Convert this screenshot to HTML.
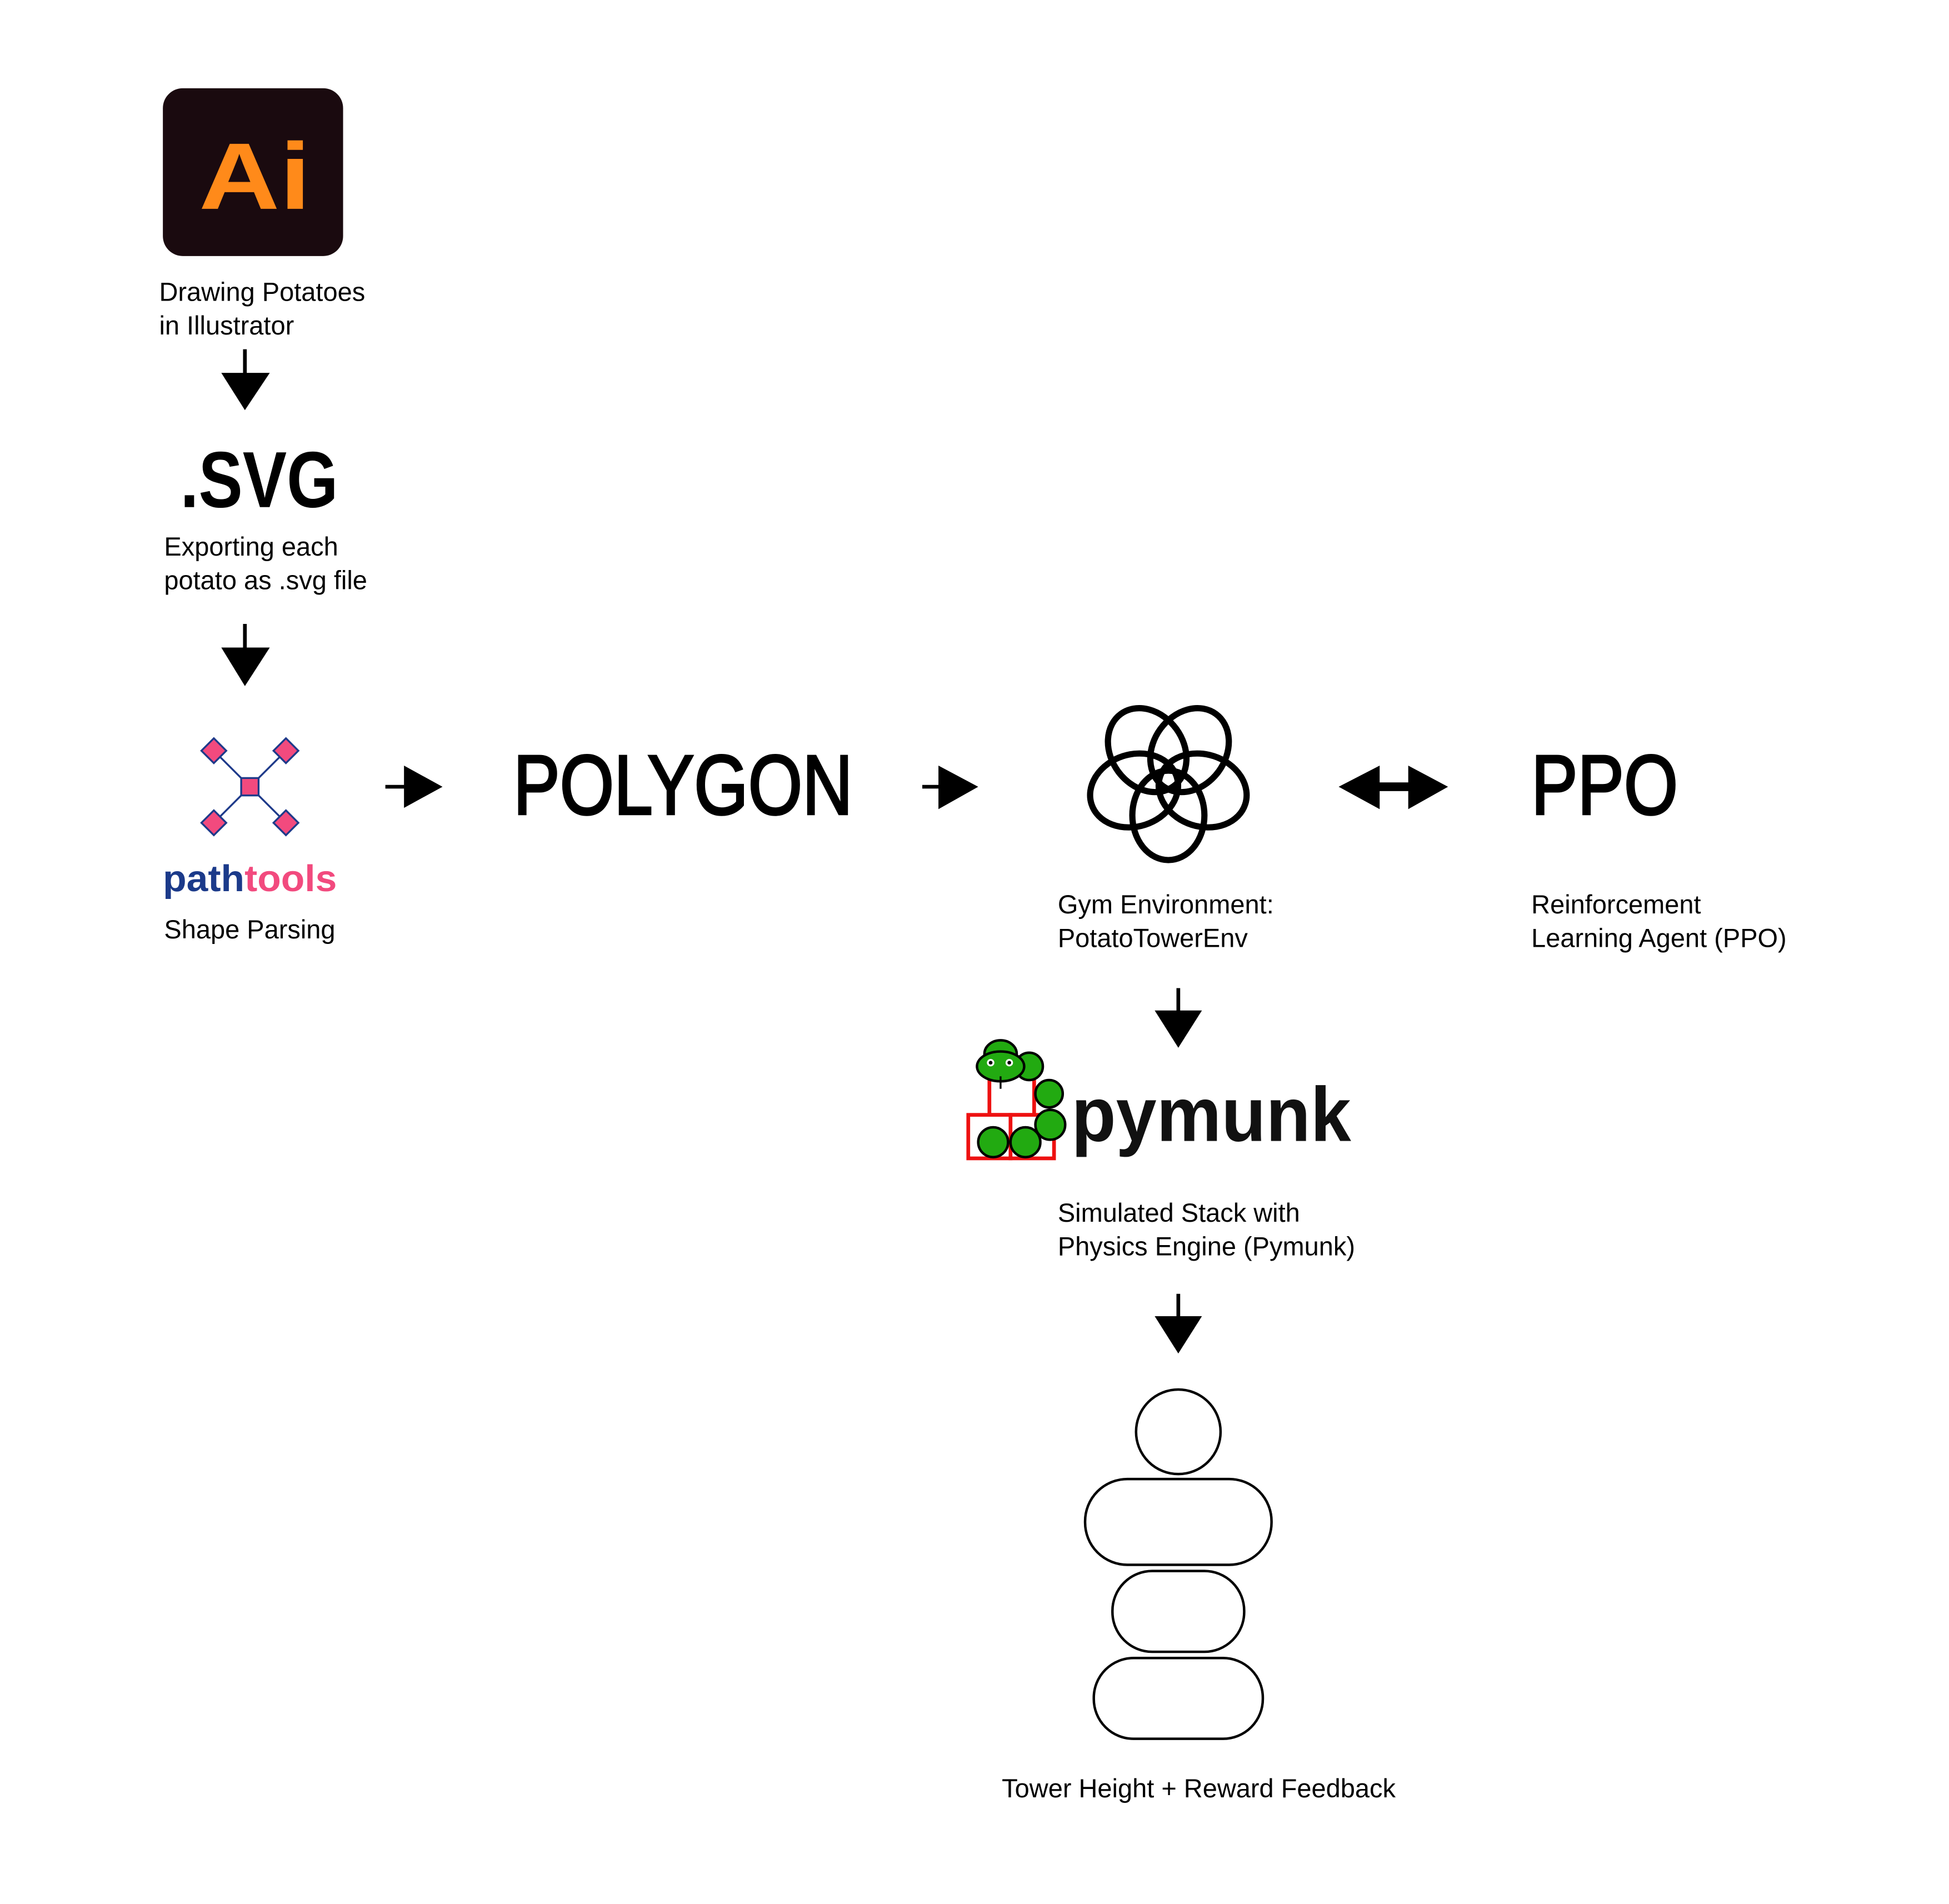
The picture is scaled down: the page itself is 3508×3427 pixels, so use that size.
<!DOCTYPE html>
<html><head><meta charset="utf-8"><style>html,body{margin:0;padding:0;background:#fff}svg{display:block}text{font-family:"Liberation Sans",sans-serif;fill:#000}</style></head>
<body>
<svg width="3508" height="3427" viewBox="0 0 1550 1514.3" xmlns="http://www.w3.org/2000/svg">
<rect width="1550" height="1515" fill="#fff"/>
<g transform="scale(0.9885)">
<rect x="131" y="71" width="145" height="135" rx="16" fill="#1a0a0f"/>
<text x="160" y="168" font-size="76" font-weight="bold" textLength="90" lengthAdjust="spacingAndGlyphs" style="fill:#ff8a1a">Ai</text>
<text x="128" y="242" font-size="21">Drawing Potatoes</text>
<text x="128" y="269" font-size="21">in Illustrator</text>
<line x1="197" y1="281" x2="197" y2="302" stroke="#000" stroke-width="3"/>
<polygon points="178,300 217,300 197,330" fill="#000"/>
<text x="145" y="408" font-size="64" font-weight="bold" textLength="127" lengthAdjust="spacingAndGlyphs">.SVG</text>
<text x="132" y="447" font-size="21">Exporting each</text>
<text x="132" y="474" font-size="21">potato as .svg file</text>
<line x1="197" y1="502" x2="197" y2="523" stroke="#000" stroke-width="3"/>
<polygon points="178,521 217,521 197,552" fill="#000"/>
<g stroke="#1e3a8a" stroke-width="1.5">
<line x1="172" y1="604" x2="230" y2="662"/><line x1="230" y1="604" x2="172" y2="662"/>
<g fill="#f24a7e">
<polygon points="172,594 182,604 172,614 162,604"/>
<polygon points="230,594 240,604 230,614 220,604"/>
<polygon points="172,652 182,662 172,672 162,662"/>
<polygon points="230,652 240,662 230,672 220,662"/>
<rect x="194" y="626" width="14" height="14"/>
</g></g>
<text x="131" y="717" font-size="30" font-weight="bold" textLength="140" lengthAdjust="spacingAndGlyphs"><tspan style="fill:#1b3a8a">path</tspan><tspan style="fill:#f24a7e">tools</tspan></text>
<text x="132" y="755" font-size="21">Shape Parsing</text>
<line x1="310" y1="633" x2="327" y2="633" stroke="#000" stroke-width="3"/>
<polygon points="325,616 356,633 325,650" fill="#000"/>
<text x="413" y="655" font-size="68" textLength="273" lengthAdjust="spacingAndGlyphs" stroke="#000" stroke-width="1.8">POLYGON</text>
<line x1="742" y1="633" x2="757" y2="633" stroke="#000" stroke-width="3"/>
<polygon points="755,616 787,633 755,651" fill="#000"/>
<g fill="none" stroke="#000" stroke-width="5" transform="translate(940,627)">
<ellipse cx="0" cy="-29" rx="29" ry="36" transform="rotate(-36)"/>
<ellipse cx="0" cy="-29" rx="29" ry="36" transform="rotate(36)"/>
<ellipse cx="0" cy="-29" rx="29" ry="36" transform="rotate(108)"/>
<ellipse cx="0" cy="-29" rx="29" ry="36" transform="rotate(180)"/>
<ellipse cx="0" cy="-29" rx="29" ry="36" transform="rotate(252)"/>
</g>
<line x1="1105" y1="633" x2="1138" y2="633" stroke="#000" stroke-width="7"/>
<polygon points="1110,616 1077,633 1110,651" fill="#000"/>
<polygon points="1133,616 1165,633 1133,651" fill="#000"/>
<text x="1232" y="655" font-size="68" textLength="118" lengthAdjust="spacingAndGlyphs" stroke="#000" stroke-width="1.8">PPO</text>
<text x="851" y="735" font-size="21">Gym Environment:</text>
<text x="851" y="762" font-size="21">PotatoTowerEnv</text>
<text x="1232" y="735" font-size="21">Reinforcement</text>
<text x="1232" y="762" font-size="21">Learning Agent (PPO)</text>
<line x1="948" y1="795" x2="948" y2="815" stroke="#000" stroke-width="3"/>
<polygon points="929,813 967,813 948,843" fill="#000"/>
<g stroke="#ee1111" stroke-width="3" fill="#fff">
<rect x="796" y="860" width="36" height="37"/>
<rect x="779" y="897" width="34" height="35"/>
<rect x="813" y="897" width="35" height="35"/>
</g>
<g fill="#22aa11" stroke="#000" stroke-width="2">
<circle cx="828" cy="858" r="11"/>
<circle cx="844" cy="880" r="11"/>
<circle cx="845" cy="905" r="12"/>
<circle cx="799" cy="919" r="12"/>
<circle cx="825" cy="919" r="12"/>
<ellipse cx="805" cy="848" rx="13" ry="11"/>
<ellipse cx="805" cy="858" rx="19" ry="12"/>
</g>
<circle cx="797" cy="855" r="3" fill="#fff"/><circle cx="812" cy="855" r="3" fill="#fff"/>
<circle cx="797" cy="855" r="1.5" fill="#000"/><circle cx="812" cy="855" r="1.5" fill="#000"/>
<line x1="805" y1="866" x2="805" y2="876" stroke="#000" stroke-width="1.5"/>
<text x="862" y="918" font-size="62" font-weight="bold" textLength="225" lengthAdjust="spacingAndGlyphs" style="fill:#111">pymunk</text>
<text x="851" y="983" font-size="21">Simulated Stack with</text>
<text x="851" y="1010" font-size="21">Physics Engine (Pymunk)</text>
<line x1="948" y1="1041" x2="948" y2="1061" stroke="#000" stroke-width="3"/>
<polygon points="929,1059 967,1059 948,1089" fill="#000"/>
<g fill="none" stroke="#000" stroke-width="2">
<circle cx="948" cy="1152" r="34"/>
<rect x="873" y="1190" width="150" height="69" rx="34"/>
<rect x="895" y="1264" width="106" height="65" rx="32"/>
<rect x="880" y="1334" width="136" height="65" rx="32"/>
</g>
<text x="806" y="1446" font-size="21">Tower Height + Reward Feedback</text>
</g>
</svg>
</body></html>
